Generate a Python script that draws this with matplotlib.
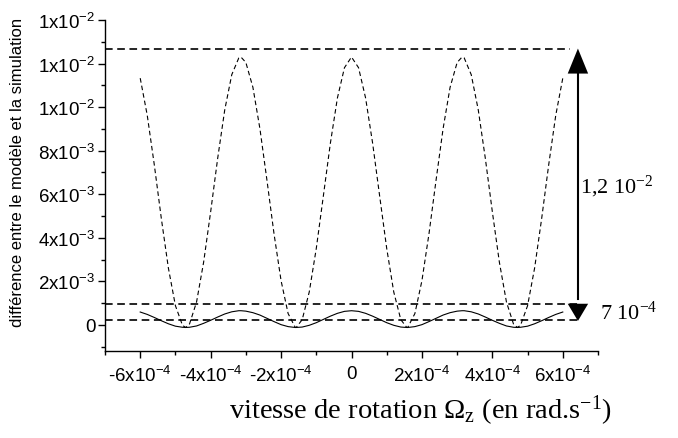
import matplotlib
matplotlib.use('Agg')
import matplotlib.pyplot as plt
from matplotlib.ticker import MultipleLocator, FixedLocator, FixedFormatter

plt.rcParams['font.family'] = ['Liberation Sans', 'DejaVu Sans']
plt.rcParams['mathtext.default'] = 'regular'
plt.rcParams['lines.scale_dashes'] = False

# rotation speed (units of 1e-4 rad/s)
omega_e4 = [-6.0, -5.8, -5.6, -5.4, -5.2, -5.0, -4.8, -4.71, -4.6, -4.4, -4.2, -4.0,
            -3.8, -3.6, -3.4, -3.2, -3.14, -3.0, -2.8, -2.6, -2.4, -2.2, -2.0, -1.8,
            -1.6, -1.57, -1.4, -1.2, -1.0, -0.8, -0.6, -0.4, -0.2, 0.0,
            0.2, 0.4, 0.6, 0.8, 1.0, 1.2, 1.4, 1.57, 1.6, 1.8, 2.0, 2.2, 2.4, 2.6,
            2.8, 3.0, 3.14, 3.2, 3.4, 3.6, 3.8, 4.0, 4.2, 4.4, 4.6, 4.71, 4.8, 5.0,
            5.2, 5.4, 5.6, 5.8, 6.0]

# dashed curve: difference (uncorrected)
diff_dashed = [0.01133, 0.00962, 0.00735, 0.00488, 0.00261, 0.00088, -0.00002, -0.00012,
               0.00004, 0.00105, 0.00287, 0.00519, 0.00765, 0.00987, 0.01149, 0.01226,
               0.01230, 0.01205, 0.01091, 0.00900, 0.00663, 0.00418, 0.00203, 0.00052,
               -0.00011, -0.00012, 0.00024, 0.00151, 0.00351, 0.00591, 0.00834, 0.01042,
               0.01181, 0.01230,
               0.01181, 0.01042, 0.00834, 0.00591, 0.00351, 0.00151, 0.00024, -0.00012,
               -0.00011, 0.00052, 0.00203, 0.00418, 0.00663, 0.00900, 0.01091, 0.01205,
               0.01230, 0.01226, 0.01149, 0.00987, 0.00765, 0.00519, 0.00287, 0.00105,
               0.00004, -0.00012, -0.00002, 0.00088, 0.00261, 0.00488, 0.00735, 0.00962,
               0.01133]

# solid curve: difference (corrected)
diff_solid = [0.00059, 0.00048, 0.00034, 0.00019, 0.00005, -0.00006, -0.00011, -0.00012,
              -0.00011, -0.00005, 0.00007, 0.00021, 0.00036, 0.00050, 0.00060, 0.00065,
              0.00065, 0.00063, 0.00056, 0.00045, 0.00030, 0.00015, 0.00001, -0.00008,
              -0.00012, -0.00012, -0.00010, -0.00002, 0.00010, 0.00025, 0.00040, 0.00053,
              0.00062, 0.00065,
              0.00062, 0.00053, 0.00040, 0.00025, 0.00010, -0.00002, -0.00010, -0.00012,
              -0.00012, -0.00008, 0.00001, 0.00015, 0.00030, 0.00045, 0.00056, 0.00063,
              0.00065, 0.00065, 0.00060, 0.00050, 0.00036, 0.00021, 0.00007, -0.00005,
              -0.00011, -0.00012, -0.00011, -0.00006, 0.00005, 0.00019, 0.00034, 0.00048,
              0.00059]

# reference levels (horizontal dashed lines)
level_top = 0.01269
level_mid = 0.00097
level_low = 0.00023

x_ticks = [-6e-4, -4e-4, -2e-4, 0, 2e-4, 4e-4, 6e-4]
x_labels = ['-6x10$^{-4}$', '-4x10$^{-4}$', '-2x10$^{-4}$', '0',
            '2x10$^{-4}$', '4x10$^{-4}$', '6x10$^{-4}$']
y_ticks = [0, 0.002, 0.004, 0.006, 0.008, 0.010, 0.012, 0.014]
y_labels = ['0', '2x10$^{-3}$', '4x10$^{-3}$', '6x10$^{-3}$', '8x10$^{-3}$',
            '1x10$^{-2}$', '1x10$^{-2}$', '1x10$^{-2}$']

W, H = 678, 439
fig = plt.figure(figsize=(W / 100, H / 100), dpi=100)
ax = fig.add_axes([105 / W, 1 - 352 / H, (598 - 105) / W, (352 - 21) / H])

omega = [v * 1e-4 for v in omega_e4]
ax.plot(omega, diff_dashed, color='black', lw=0.8, dashes=(3.3, 2.2))
ax.plot(omega, diff_solid, color='black', lw=0.8)

ax.set_xlim(-7e-4, 7e-4)
ax.set_ylim(-0.0012, 0.014)

# reference lines
ax.plot([-7e-4, 6.2e-4], [level_top, level_top], color='black', lw=1.2, dashes=(5.5, 3.3))
ax.plot([-7e-4, 6.43e-4], [level_mid, level_mid], color='black', lw=1.2, dashes=(5.5, 3.3))
ax.plot([-7e-4, 6.43e-4], [level_low, level_low], color='black', lw=1.2, dashes=(5.5, 3.3))

# double arrow
xa = 6.43e-4
hw = 0.29e-4
ax.plot([xa, xa], [level_top - 0.001, level_mid + 0.0002], color='black', lw=1.5)
ax.fill([xa - hw, xa + hw, xa], [level_top - 0.00115, level_top - 0.00115, level_top],
        color='black', lw=0)
ax.fill([xa - hw, xa + hw, xa], [level_mid, level_mid, level_low - 0.00005],
        color='black', lw=0)

ax.text(6.48e-4, 0.00640, '1,2 10$^{-2}$', family='Liberation Serif', fontsize=16,
        ha='left', va='center')
ax.text(7.05e-4, level_low + 0.00035, '7 10$^{-4}$', family='Liberation Serif', fontsize=16,
        ha='left', va='center', clip_on=False)

for s in ['top', 'right']:
    ax.spines[s].set_visible(False)
for s in ['left', 'bottom']:
    ax.spines[s].set_linewidth(1.0)

ax.xaxis.set_major_locator(FixedLocator(x_ticks))
ax.xaxis.set_major_formatter(FixedFormatter(x_labels))
ax.yaxis.set_major_locator(FixedLocator(y_ticks))
ax.yaxis.set_major_formatter(FixedFormatter(y_labels))
ax.xaxis.set_minor_locator(MultipleLocator(1e-4))
ax.yaxis.set_minor_locator(MultipleLocator(1e-3))
ax.tick_params(which='major', direction='out', length=5, width=1.0, labelsize=13.5)
ax.tick_params(which='minor', direction='out', length=3, width=1.0)
ax.tick_params(axis='x', pad=5)
ax.tick_params(axis='y', pad=2)

fig.text(420 / W, 1 - 411 / H, 'vitesse de rotation $\\Omega_{z}$ (en rad.s$^{-1}$)',
         family='Liberation Serif', fontsize=20.5, ha='center', va='center')
fig.text(18 / W, 1 - 172 / H, 'différence entre le modèle et la simulation',
         fontsize=12, rotation=90, ha='center', va='center')

fig.savefig('out.png', dpi=100)
